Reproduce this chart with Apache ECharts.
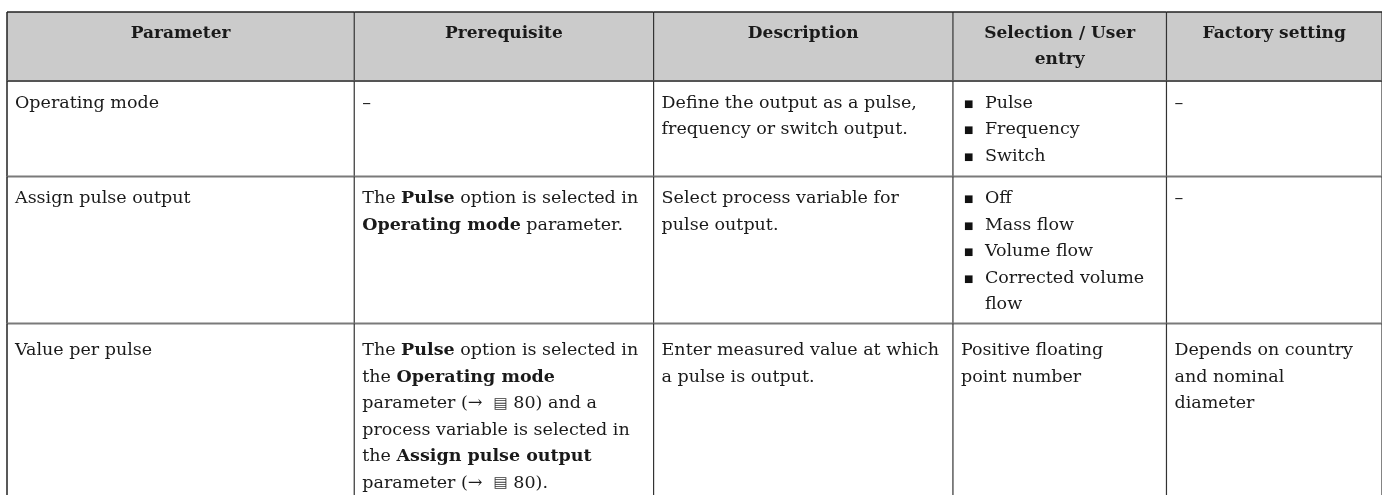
<!DOCTYPE html>
<html>
<head>
<meta charset="utf-8">
<script src="https://cdn.jsdelivr.net/npm/echarts@6/dist/echarts.min.js"></script>
<style>
html,body{margin:0;padding:0;background:#ffffff;}
#c{width:1382px;height:495px;}
</style>
</head>
<body>
<div id="c"></div>
<script>
// ---------- table content ----------
const headers = ['Parameter', 'Prerequisite', 'Description', 'Selection / User\nentry', 'Factory setting'];
const parameters = ['Operating mode', 'Assign pulse output', 'Value per pulse'];
const prerequisites = [
  '–',
  'The **Pulse** option is selected in\n**Operating mode** parameter.',
  'The **Pulse** option is selected in\nthe **Operating mode**\nparameter (→  [book] 80) and a\nprocess variable is selected in\nthe **Assign pulse output**\nparameter (→  [book] 80).'
];
const descriptions = [
  'Define the output as a pulse,\nfrequency or switch output.',
  'Select process variable for\npulse output.',
  'Enter measured value at which\na pulse is output.'
];
const selections = [
  ['Pulse', 'Frequency', 'Switch'],
  ['Off', 'Mass flow', 'Volume flow', 'Corrected volume\nflow'],
  'Positive floating\npoint number'
];
const factorySettings = ['–', '–', 'Depends on country\nand nominal\ndiameter'];

// ---------- layout (not data) ----------
const colEdges = [0, 348, 648, 948, 1162, 1378];
const rowEdges = [0, 70, 167, 316, 490];
const rowTextPad = [8, 9, 9, 14];
const FONT = 'DejaVu Serif';
const FS = 17.5;
const HFS = 17;
const LH = 26.5;
const columns = [parameters, prerequisites, descriptions, selections, factorySettings];

function cellContent(c, r) {
  return r === 0 ? headers[c] : columns[c][r - 1];
}
function toRich(s) {
  return s.replace(/\*\*(.+?)\*\*/g, '{b|$1}').replace(/\[book\]/g, '{i|▤}');
}
const richStyles = {
  b: {fontFamily: FONT, fontSize: FS, fontWeight: 'bold', lineHeight: LH, fill: '#1a1a1a'},
  i: {fontFamily: 'DejaVu Sans', fontSize: 15, lineHeight: LH, fill: '#333'}
};

const cells = [];
for (let r = 0; r < rowEdges.length - 1; r++) {
  for (let c = 0; c < colEdges.length - 1; c++) cells.push([c, r]);
}

function cellRect(api) {
  const c = api.value(0), r = api.value(1);
  const p0 = api.coord([colEdges[c], rowEdges[r]]);
  const p1 = api.coord([colEdges[c + 1], rowEdges[r + 1]]);
  return {c, r, x0: p0[0], y0: p0[1], x1: p1[0], y1: p1[1]};
}

function renderCell(params, api) {
  const k = cellRect(api);
  const children = [];
  if (k.r === 0) {
    children.push({type: 'rect', shape: {x: k.x0, y: k.y0, width: k.x1 - k.x0, height: k.y1 - k.y0},
      style: {fill: '#cbcbcb'}});
    children.push({type: 'text', x: (k.x0 + k.x1) / 2, y: k.y0 + rowTextPad[0],
      style: {text: headers[k.c], fontFamily: FONT, fontSize: HFS, fontWeight: 'bold', lineHeight: LH,
        fill: '#1a1a1a', align: 'center', verticalAlign: 'top'}});
    return {type: 'group', children};
  }
  const content = cellContent(k.c, k.r);
  const tx = k.x0 + 8, ty = k.y0 + rowTextPad[k.r];
  if (Array.isArray(content)) {
    const bullets = content.map(it => '■' + '\n '.repeat(it.split('\n').length - 1)).join('\n');
    children.push({type: 'text', x: tx + 3, y: ty + 1,
      style: {text: bullets, fontFamily: 'DejaVu Sans', fontSize: 10, lineHeight: LH, fill: '#111',
        align: 'left', verticalAlign: 'top'}});
    children.push({type: 'text', x: tx + 24, y: ty,
      style: {text: content.join('\n'), fontFamily: FONT, fontSize: FS, lineHeight: LH, fill: '#1a1a1a',
        align: 'left', verticalAlign: 'top'}});
  } else {
    children.push({type: 'text', x: tx, y: ty,
      style: {text: toRich(content), rich: richStyles, fontFamily: FONT, fontSize: FS, lineHeight: LH,
        fill: '#1a1a1a', align: 'left', verticalAlign: 'top'}});
  }
  return {type: 'group', children};
}

function renderLines(params, api) {
  const k = cellRect(api);
  const lines = [];
  const lastRow = k.r === rowEdges.length - 2;
  lines.push({type: 'line', shape: {x1: k.x1, y1: k.y0, x2: k.x1, y2: k.y1},
    style: {stroke: '#333', lineWidth: 1.2}});
  if (k.c === 0) lines.push({type: 'line', shape: {x1: k.x0, y1: k.y0, x2: k.x0, y2: k.y1},
    style: {stroke: '#222', lineWidth: 1.5}});
  if (k.r === 0) lines.push({type: 'line', shape: {x1: k.x0, y1: k.y0, x2: k.x1, y2: k.y0},
    style: {stroke: '#222', lineWidth: 1.5}});
  if (!lastRow) lines.push({type: 'line', shape: {x1: k.x0, y1: k.y1, x2: k.x1, y2: k.y1},
    style: {stroke: k.r === 0 ? '#555' : '#7a7a7a', lineWidth: 2}});
  return {type: 'group', children: lines};
}

const chart = echarts.init(document.getElementById('c'));
chart.setOption({
  animation: false,
  backgroundColor: '#ffffff',
  grid: {left: 7, top: 12, width: 1378, height: 490},
  xAxis: {type: 'value', min: 0, max: colEdges[colEdges.length - 1], show: false},
  yAxis: {type: 'value', min: 0, max: rowEdges[rowEdges.length - 1], inverse: true, show: false},
  series: [
    {type: 'custom', renderItem: renderCell, data: cells, z: 1, silent: true, clip: false},
    {type: 'custom', renderItem: renderLines, data: cells, z: 2, silent: true, clip: false}
  ]
});
</script>
</body>
</html>
